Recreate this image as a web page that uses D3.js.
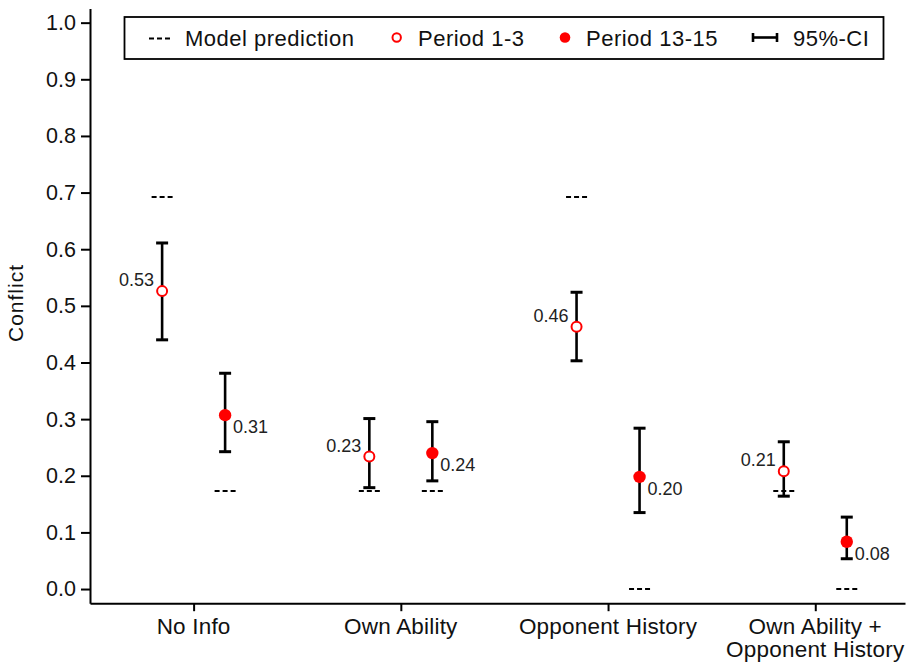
<!DOCTYPE html>
<html>
<head>
<meta charset="utf-8">
<script src="https://cdn.jsdelivr.net/npm/d3@7"></script>
<style>
  html, body { margin: 0; padding: 0; background: #fff; }
  svg { display: block; font-family: "Liberation Sans", Arial, sans-serif; }
</style>
</head>
<body>
<svg id="chart" width="909" height="665"></svg>
<script>
// ---- data ----
const categories = ["No Info", "Own Ability", "Opponent History", "Own Ability +|Opponent History"];
const earlyMean = [0.526, 0.234, 0.463, 0.208];
const earlyLo   = [0.440, 0.179, 0.403, 0.164];
const earlyHi   = [0.611, 0.301, 0.524, 0.260];
const lateMean  = [0.307, 0.240, 0.198, 0.0835];
const lateLo    = [0.2425, 0.191, 0.135, 0.0535];
const lateHi    = [0.381, 0.2955, 0.284, 0.127];
const predEarly = [0.692, 0.173, 0.692, 0.173];
const predLate  = [0.173, 0.173, 0.0, 0.0];
const yTicks = [0, 0.1, 0.2, 0.3, 0.4, 0.5, 0.6, 0.7, 0.8, 0.9, 1.0];
const legendLabels = ["Model prediction", "Period 1-3", "Period 13-15", "95%-CI"];
const yTitle = "Conflict";

const svg = d3.select("#chart");
const red = "#ff0000";

const y = d3.scaleLinear().domain([-0.025, 1.025]).range([603.2, 8.5]);
const x = d3.scaleLinear().domain([0.5, 4.433]).range([90, 905]);
const off = 0.152;

// axes
const yAxis = d3.axisLeft(y).tickValues(yTicks).tickFormat(d3.format(".1f")).tickSize(9).tickPadding(5).tickSizeOuter(0);
const gy = svg.append("g").attr("transform", "translate(90,0)").call(yAxis);
gy.select(".domain").attr("stroke-width", 2);
gy.selectAll(".tick line").attr("stroke-width", 2);
gy.selectAll(".tick text").attr("font-size", 21.5).attr("fill", "#111").attr("font-family", "Liberation Sans, Arial, sans-serif");

const xAxis = d3.axisBottom(x).tickValues([1, 2, 3, 4]).tickFormat("").tickSize(8).tickSizeOuter(0);
const gx = svg.append("g").attr("transform", "translate(0,603.2)").call(xAxis);
gx.select(".domain").attr("stroke-width", 2);
gx.selectAll(".tick line").attr("stroke-width", 2);

categories.forEach((c, i) => {
  const lines = c.split("|");
  const t = svg.append("text").attr("x", x(i + 1)).attr("y", 633.5)
    .attr("text-anchor", "middle").attr("font-size", 22.5).attr("letter-spacing", 0.2).attr("fill", "#111");
  lines.forEach((l, j) => t.append("tspan").attr("x", x(i + 1)).attr("dy", j === 0 ? 0 : 23.3).text(l));
});

svg.append("text").attr("transform", "translate(23,303) rotate(-90)")
  .attr("text-anchor", "middle").attr("font-size", 21).attr("letter-spacing", 1).attr("fill", "#111").text(yTitle);

// error bars
function ci(xc, lo, hi) {
  const g = svg.append("g").attr("stroke", "#000").attr("stroke-width", 2.6);
  g.append("line").attr("x1", xc).attr("x2", xc).attr("y1", y(lo)).attr("y2", y(hi));
  g.append("line").attr("x1", xc - 6).attr("x2", xc + 6).attr("y1", y(lo)).attr("y2", y(lo)).attr("stroke-width", 3);
  g.append("line").attr("x1", xc - 6).attr("x2", xc + 6).attr("y1", y(hi)).attr("y2", y(hi)).attr("stroke-width", 3);
}
function dashes(xc, v) {
  svg.append("line").attr("x1", xc - 10.5).attr("x2", xc + 10.5).attr("y1", y(v)).attr("y2", y(v))
    .attr("stroke", "#000").attr("stroke-width", 2).attr("stroke-dasharray", "5,3");
}
const fmt = d3.format(".2f");

categories.forEach((c, i) => {
  const xe = x(i + 1 - off), xl = x(i + 1 + off);
  ci(xe, earlyLo[i], earlyHi[i]);
  ci(xl, lateLo[i], lateHi[i]);
});
categories.forEach((c, i) => {
  const xe = x(i + 1 - off), xl = x(i + 1 + off);
  svg.append("circle").attr("cx", xe).attr("cy", y(earlyMean[i])).attr("r", 5)
    .attr("fill", "#fff").attr("stroke", red).attr("stroke-width", 2);
  svg.append("circle").attr("cx", xl).attr("cy", y(lateMean[i])).attr("r", 6.2).attr("fill", red);
  svg.append("text").attr("x", xe - 8).attr("y", y(earlyMean[i]) - 5).attr("text-anchor", "end")
    .attr("font-size", 18).attr("fill", "#222").text(fmt(earlyMean[i]));
  svg.append("text").attr("x", xl + 8).attr("y", y(lateMean[i]) + 18).attr("text-anchor", "start")
    .attr("font-size", 18).attr("fill", "#222").text(fmt(lateMean[i]));
  dashes(xe, predEarly[i]);
  dashes(xl, predLate[i]);
});

// legend
const lg = svg.append("g");
lg.append("rect").attr("x", 124.5).attr("y", 17).attr("width", 759).attr("height", 42)
  .attr("fill", "#fff").attr("stroke", "#000").attr("stroke-width", 1.8);
const ly = 37.5;
const lfs = 22, lls = 0.5;
lg.append("line").attr("x1", 149).attr("x2", 170).attr("y1", ly + 1).attr("y2", ly + 1)
  .attr("stroke", "#000").attr("stroke-width", 2).attr("stroke-dasharray", "5,3");
lg.append("text").attr("x", 185).attr("y", 46).attr("font-size", lfs).attr("letter-spacing", lls).attr("fill", "#111").text(legendLabels[0]);
lg.append("circle").attr("cx", 396.7).attr("cy", ly).attr("r", 4.2).attr("fill", "#fff").attr("stroke", red).attr("stroke-width", 2);
lg.append("text").attr("x", 418).attr("y", 46).attr("font-size", lfs).attr("letter-spacing", lls).attr("fill", "#111").text(legendLabels[1]);
lg.append("circle").attr("cx", 565).attr("cy", ly).attr("r", 5.3).attr("fill", red);
lg.append("text").attr("x", 586).attr("y", 46).attr("font-size", lfs).attr("letter-spacing", lls).attr("fill", "#111").text(legendLabels[2]);
lg.append("line").attr("x1", 753).attr("x2", 777).attr("y1", ly).attr("y2", ly).attr("stroke", "#000").attr("stroke-width", 2.6);
lg.append("line").attr("x1", 753).attr("x2", 753).attr("y1", ly - 4.5).attr("y2", ly + 4.5).attr("stroke", "#000").attr("stroke-width", 2.6);
lg.append("line").attr("x1", 777).attr("x2", 777).attr("y1", ly - 4.5).attr("y2", ly + 4.5).attr("stroke", "#000").attr("stroke-width", 2.6);
lg.append("text").attr("x", 793).attr("y", 46).attr("font-size", lfs).attr("letter-spacing", lls).attr("fill", "#111").text(legendLabels[3]);
</script>
</body>
</html>
